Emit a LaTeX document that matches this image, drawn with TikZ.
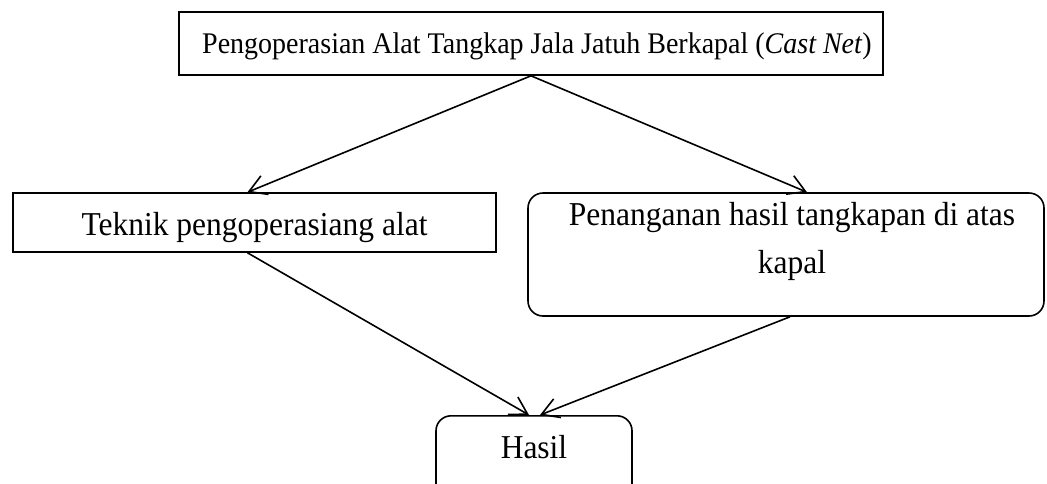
\documentclass[tikz,border=0pt]{standalone}
\usepackage{fontspec}
\setmainfont{Liberation Serif}
\usetikzlibrary{arrows.meta}
\newcommand{\vst}[2][1.06]{\scalebox{1}[#1]{#2}}
\begin{document}
\begin{tikzpicture}[x=1pt,y=-1pt,
  box/.style={draw, line width=1.6pt, inner sep=0pt, font=\fontsize{31.5}{48}\selectfont},
  rbox/.style={box, rounded corners=15pt},
  arr/.style={line width=1.6pt, -{Straight Barb[length=17pt,width=20pt,line width=1.6pt]}}]
\useasboundingbox (0,0) rectangle (1047,483);
\node[box, minimum width=704pt, minimum height=63pt, text height=19pt, text depth=0pt, font=\fontsize{28}{34}\selectfont] (top) at (531,43.5)
  {\hspace*{12pt}\vst[1.07]{Pengoperasian Alat Tangkap Jala Jatuh Berkapal (\textit{Cast Net})}};
\node[box, minimum width=483pt, minimum height=59pt, text height=25pt, text depth=0pt] (tek) at (254.5,222.5) {\vst{Teknik pengoperasiang alat}};
\node[rbox, align=center, minimum width=516pt, minimum height=123pt, text height=37pt, text depth=0pt] (pen) at (786,254.5)
  {\hspace*{12pt}\vst{Penanganan hasil tangkapan di atas}\\\hspace*{12pt}\vst{kapal}};
\node[rbox, minimum width=196pt, minimum height=90pt, text height=10pt, text depth=14pt, anchor=north] (has) at (534,415) {\vst{Hasil}};
\draw[arr] (top.south) -- ([xshift=-7pt]tek.north);
\draw[arr] (top.south) -- ([xshift=21pt]pen.north);
\draw[arr] ([xshift=-7pt]tek.south) -- ([xshift=-5pt]has.north);
\draw[arr] ([xshift=4pt]pen.south) -- ([xshift=6pt]has.north);
\end{tikzpicture}
\end{document}
